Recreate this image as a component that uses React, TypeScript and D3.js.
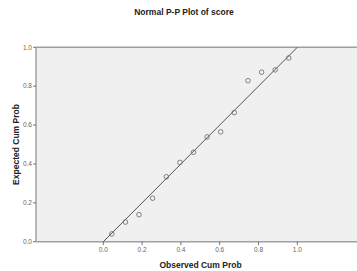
import React from "react";
import * as d3 from "d3";

const observed = [0.044, 0.114, 0.184, 0.254, 0.325, 0.395, 0.465, 0.535, 0.605, 0.675, 0.746, 0.816, 0.886, 0.956];
const expected = [0.040, 0.101, 0.139, 0.224, 0.334, 0.408, 0.460, 0.539, 0.565, 0.664, 0.828, 0.872, 0.884, 0.945];
const ticks = [0, 0.2, 0.4, 0.6, 0.8, 1.0];

const W = 357, H = 271;

export default function App() {
  const x = d3.scaleLinear().domain([0, 1]).range([103.3, 297.3]);
  const y = d3.scaleLinear().domain([0, 1]).range([241.7, 47.3]);
  const left = 36, right = 357, top = y(1), bottom = y(0);
  const line = d3.line<[number, number]>().x(d => x(d[0])).y(d => y(d[1]));
  const font = "'Liberation Sans', Arial, sans-serif";
  return (
    <svg width={W} height={H} style={{ position: "absolute", left: 0, top: 0, background: "#fff" }} fontFamily={font}>
      <text x={184} y={15} textAnchor="middle" fontSize={8.5} fontWeight="bold" fill="#222">Normal P-P Plot of score</text>
      <rect x={left} y={top} width={right - left} height={bottom - top} fill="#f0f0f0" />
      <line x1={left} x2={right} y1={top} y2={top} stroke="#a0a0a0" strokeWidth={1.5} />
      <line x1={left} x2={right} y1={bottom} y2={bottom} stroke="#a0a0a0" strokeWidth={1.5} />
      <line x1={left} x2={left} y1={top} y2={bottom} stroke="#a0a0a0" strokeWidth={1.5} />
      {ticks.map(t => (
        <g key={"y" + t}>
          <line x1={left - 3} x2={left} y1={y(t)} y2={y(t)} stroke="#555" strokeWidth={0.8} />
          <text x={left - 4} y={y(t) + 2.3} textAnchor="end" fontSize={6.5} fill="#666">{t.toFixed(1)}</text>
        </g>
      ))}
      {ticks.map(t => (
        <g key={"x" + t}>
          <line x1={x(t)} x2={x(t)} y1={bottom} y2={bottom + 3.5} stroke="#555" strokeWidth={0.8} />
          <text x={x(t)} y={bottom + 10.5} textAnchor="middle" fontSize={6.5} fill="#666">{t.toFixed(1)}</text>
        </g>
      ))}
      <path d={line([[0, 0], [1, 1]]) || ""} stroke="#555" strokeWidth={1} fill="none" />
      {observed.map((o, i) => (
        <circle key={i} cx={x(o)} cy={y(expected[i])} r={2.3} fill="none" stroke="#666" strokeWidth={0.8} />
      ))}
      <text x={200.5} y={268} textAnchor="middle" fontSize={8.5} fontWeight="bold" fill="#222">Observed Cum Prob</text>
      <text transform={`translate(19,${(top + bottom) / 2}) rotate(-90)`} textAnchor="middle" fontSize={8.5} fontWeight="bold" fill="#222">Expected Cum Prob</text>
    </svg>
  );
}
